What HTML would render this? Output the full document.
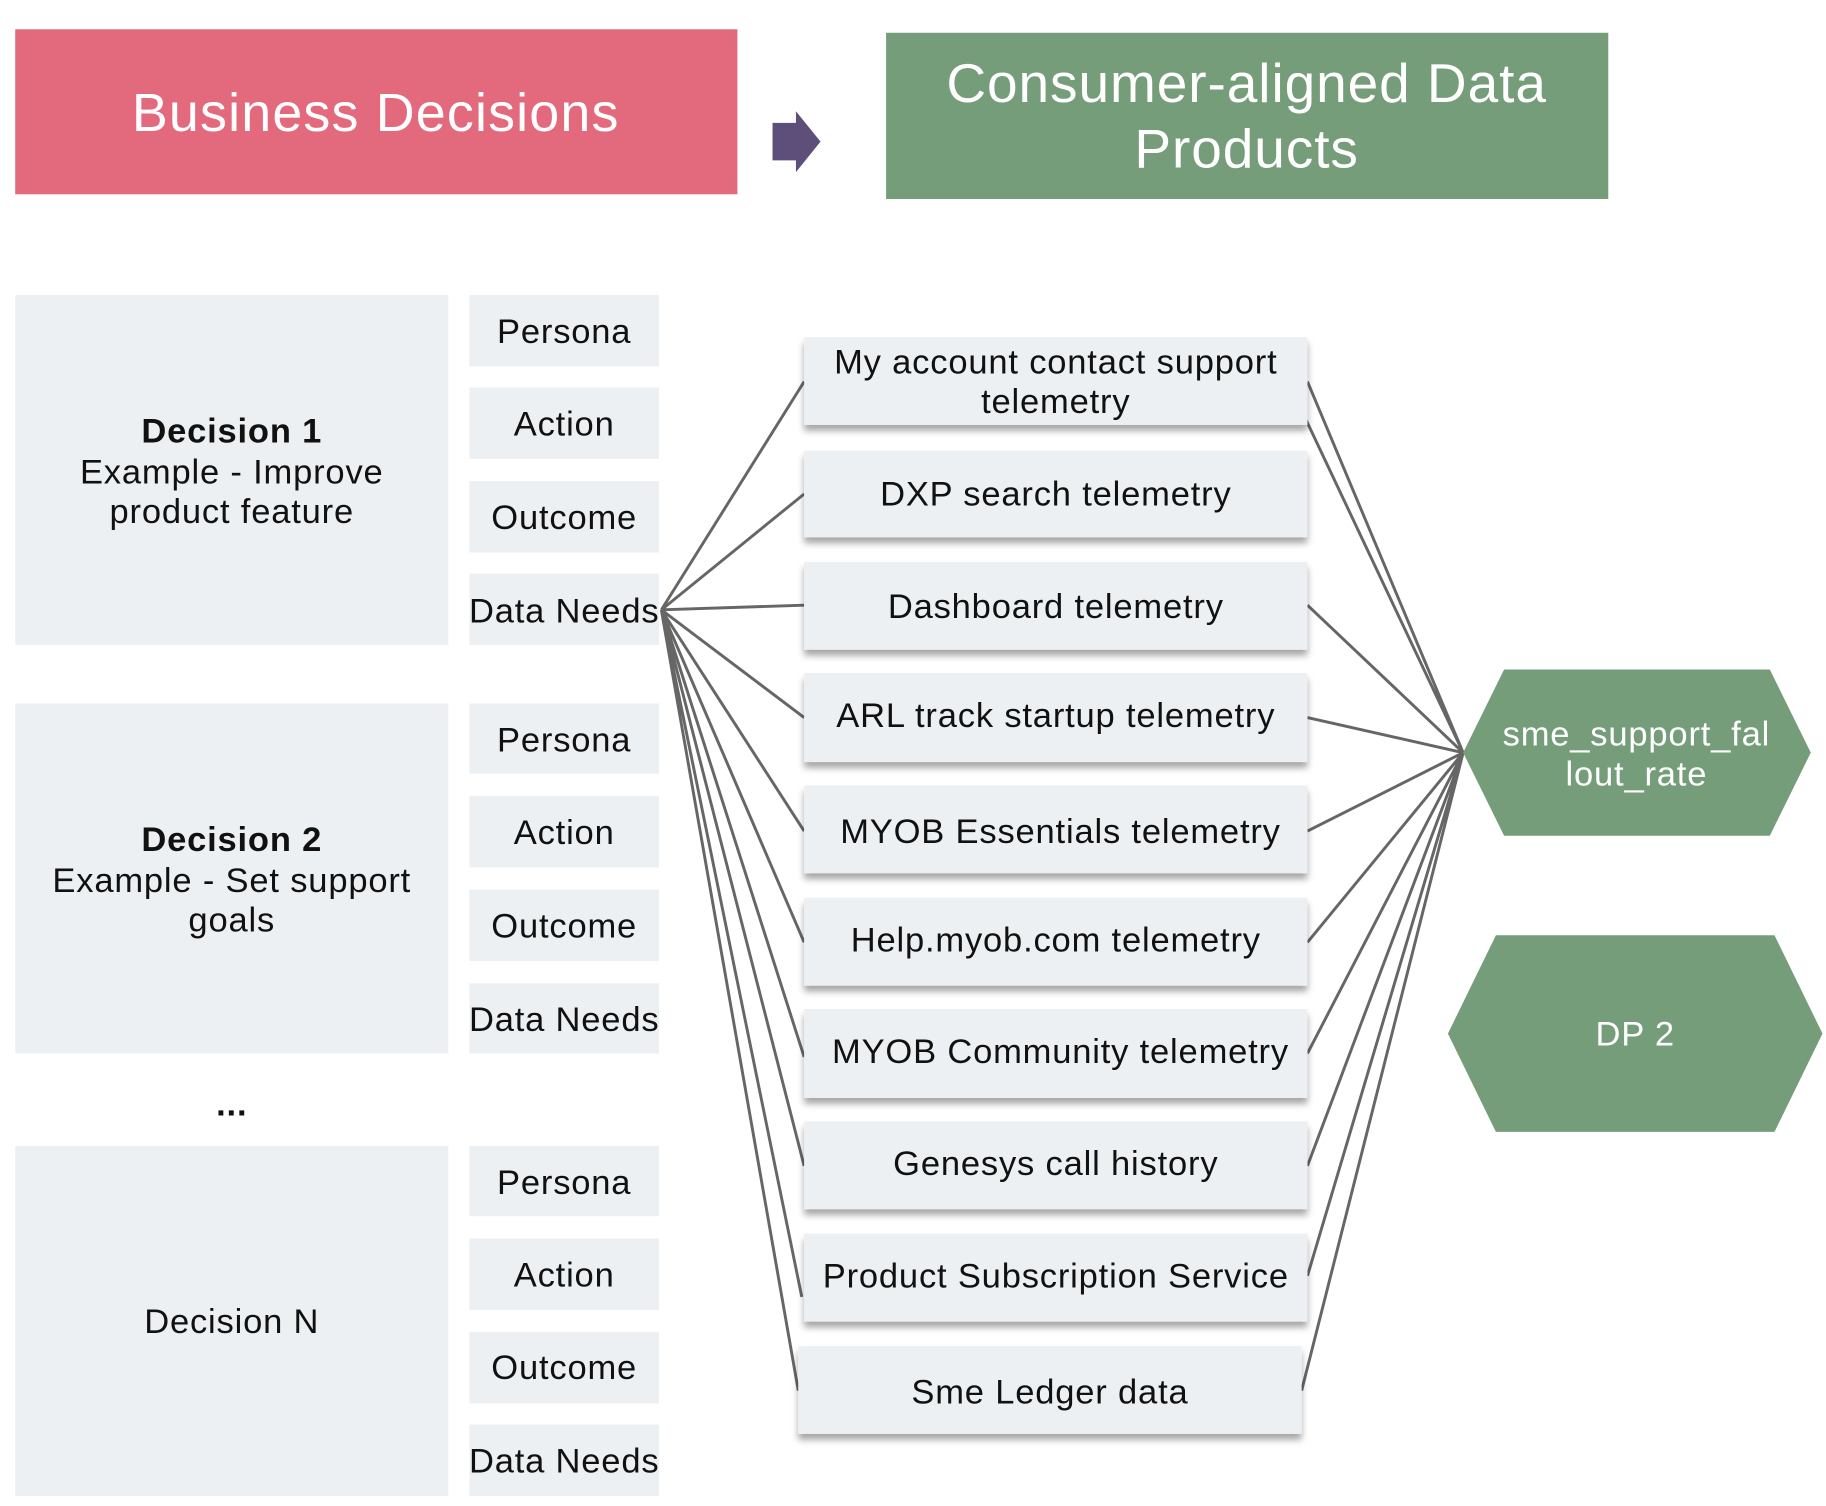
<!DOCTYPE html>
<html><head><meta charset="utf-8"><style>
html,body{margin:0;padding:0;background:#fff;}
svg{display:block;}
text{font-family:"Liberation Sans",sans-serif;}
.s{letter-spacing:0.7px;}
</style></head><body>
<svg width="1826" height="1506" viewBox="0 0 1560 1286.6" preserveAspectRatio="none" xmlns="http://www.w3.org/2000/svg">
<defs>
<filter id="sh" x="-10%" y="-20%" width="120%" height="150%">
<feDropShadow dx="0" dy="5" stdDeviation="3" flood-color="#000" flood-opacity="0.35"/>
</filter>
</defs>
<rect x="13" y="25" width="617" height="141" fill="#e26a7c"/>
<text x="321" y="112" font-size="46" fill="#fff" text-anchor="middle" style="letter-spacing:1px">Business Decisions</text>
<path d="M660 105 H680 V95 L701 121 L680 147 V137 H660 Z" fill="#5e4f7a"/>
<rect x="757" y="28" width="617" height="142" fill="#769d7a"/>
<text x="1065" y="87" font-size="47" fill="#fff" text-anchor="middle" style="letter-spacing:0.8px">Consumer-aligned Data</text>
<text x="1065" y="143" font-size="47" fill="#fff" text-anchor="middle" style="letter-spacing:0.8px">Products</text>

<g fill="#edf0f3">
<rect x="13" y="252" width="370" height="299"/>
<rect x="13" y="601" width="370" height="299"/>
<rect x="13" y="979" width="370" height="299"/>
<rect x="401" y="252" width="162" height="61"/><rect x="401" y="331" width="162" height="61"/><rect x="401" y="411" width="162" height="61"/><rect x="401" y="490" width="162" height="61"/>
<rect x="401" y="601" width="162" height="60"/><rect x="401" y="680" width="162" height="61"/><rect x="401" y="760" width="162" height="61"/><rect x="401" y="840" width="162" height="60"/>
<rect x="401" y="979" width="162" height="60"/><rect x="401" y="1058" width="162" height="61"/><rect x="401" y="1138" width="162" height="61"/><rect x="401" y="1217" width="162" height="61"/>
</g>
<g font-size="29.5" fill="#111" text-anchor="middle" class="s">
<text x="198" y="378" font-weight="bold">Decision 1</text>
<text x="198" y="413">Example -   Improve</text>
<text x="198" y="447">product feature</text>
<text x="198" y="727" font-weight="bold">Decision 2</text>
<text x="198" y="762">Example - Set support</text>
<text x="198" y="796">goals</text>
<text x="198" y="953" font-weight="bold">...</text>
<text x="198" y="1139">Decision N</text>
<text x="482" y="293">Persona</text><text x="482" y="372">Action</text><text x="482" y="452">Outcome</text><text x="482" y="532">Data Needs</text>
<text x="482" y="642">Persona</text><text x="482" y="721">Action</text><text x="482" y="801">Outcome</text><text x="482" y="881">Data Needs</text>
<text x="482" y="1020">Persona</text><text x="482" y="1099">Action</text><text x="482" y="1178">Outcome</text><text x="482" y="1258">Data Needs</text>
</g>

<g stroke="#666" stroke-width="2.5" fill="none">
<path d="M565 521 L687 326 M565 521 L687 422 M565 521 L687 517 M565 521 L687 613 M565 521 L687 710 M565 521 L687 805 M565 521 L687 903 M565 521 L687 996 M565 521 L685 1108 M565 521 L682 1188"/>
<path d="M1117 326 L1250 643 M1115 357 L1250 643 M1117 517 L1250 643 M1117 613 L1250 643 M1117 710 L1250 643 M1117 805 L1250 643 M1117 900 L1250 643 M1117 996 L1250 643 M1117 1090 L1250 643 M1112 1188 L1250 643"/>
</g>

<g fill="#edf0f3" filter="url(#sh)">
<rect x="687" y="288" width="430" height="75"/>
<rect x="687" y="385" width="430" height="74"/>
<rect x="687" y="480" width="430" height="75"/>
<rect x="687" y="575" width="430" height="76"/>
<rect x="687" y="671" width="430" height="75"/>
<rect x="687" y="767" width="430" height="75"/>
<rect x="687" y="862" width="430" height="76"/>
<rect x="687" y="958" width="430" height="75"/>
<rect x="687" y="1054" width="430" height="75"/>
<rect x="682" y="1150" width="430" height="75"/>
</g>
<g font-size="29.5" fill="#111" text-anchor="middle" class="s">
<text x="902" y="319">My account contact support</text>
<text x="902" y="353">telemetry</text>
<text x="902" y="432">DXP search telemetry</text>
<text x="902" y="528">Dashboard telemetry</text>
<text x="902" y="621">ARL track startup telemetry</text>
<text x="906" y="720">MYOB Essentials telemetry</text>
<text x="902" y="813">Help.myob.com telemetry</text>
<text x="906" y="908">MYOB Community telemetry</text>
<text x="902" y="1004">Genesys call history</text>
<text x="902" y="1100">Product Subscription Service</text>
<text x="897" y="1199">Sme Ledger data</text>
</g>

<polygon points="1250,643 1285,572 1512,572 1547,643 1512,714 1285,714" fill="#769d7a"/>
<polygon points="1237,883 1278,799 1516,799 1557,883 1516,967 1278,967" fill="#769d7a"/>
<g font-size="29.5" fill="#fff" text-anchor="middle" class="s">
<text x="1398" y="637">sme_support_fal</text>
<text x="1398" y="671">lout_rate</text>
<text x="1397" y="893">DP 2</text>
</g>
</svg>
</body></html>
